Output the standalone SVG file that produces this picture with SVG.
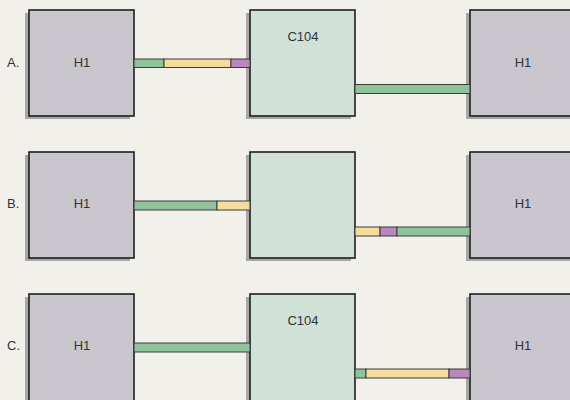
<svg xmlns="http://www.w3.org/2000/svg" width="570" height="400" viewBox="0 0 570 400">
<style>
.bg{fill:#f1f0eb}
.sh{fill:#8e8d8c;opacity:0.75}
.h{fill:#c9c7cd;stroke:#1e1e1e;stroke-width:1.6}
.c{fill:#d0e2d7;stroke:#1e1e1e;stroke-width:1.6}
.g{fill:#8fc39b;stroke:#3a3a3a;stroke-width:1}
.y{fill:#f5dc9d;stroke:#3a3a3a;stroke-width:1}
.p{fill:#b887bb;stroke:#3a3a3a;stroke-width:1}
text{font-family:"Liberation Sans",Arial,sans-serif;font-size:13px;fill:#333}
.m{text-anchor:middle}
</style>
<rect class="bg" x="0" y="0" width="570" height="400"/>
<text x="7" y="67">A.</text>
<text x="7" y="208">B.</text>
<text x="7" y="350">C.</text>
<g id="a-h1-left"><rect class="sh" x="25" y="13" width="105" height="106"/><rect class="h" x="29" y="10" width="105" height="106"/><text class="m" x="82" y="67">H1</text></g>
<g id="a-c104"><rect class="sh" x="246" y="13" width="105" height="106"/><rect class="c" x="250" y="10" width="105" height="106"/><text class="m" x="303" y="41">C104</text></g>
<g id="a-h1-right"><rect class="sh" x="466" y="13" width="110" height="106"/><rect class="h" x="470" y="10" width="110" height="106"/><text class="m" x="523" y="67">H1</text></g>
<g id="b-h1-left"><rect class="sh" x="25" y="155" width="105" height="106"/><rect class="h" x="29" y="152" width="105" height="106"/><text class="m" x="82" y="208">H1</text></g>
<g id="b-c"><rect class="sh" x="246" y="155" width="105" height="106"/><rect class="c" x="250" y="152" width="105" height="106"/></g>
<g id="b-h1-right"><rect class="sh" x="466" y="155" width="110" height="106"/><rect class="h" x="470" y="152" width="110" height="106"/><text class="m" x="523" y="208">H1</text></g>
<g id="c-h1-left"><rect class="sh" x="25" y="297" width="105" height="110"/><rect class="h" x="29" y="294" width="105" height="110"/><text class="m" x="82" y="350">H1</text></g>
<g id="c-c104"><rect class="sh" x="246" y="297" width="105" height="110"/><rect class="c" x="250" y="294" width="105" height="110"/><text class="m" x="303" y="325">C104</text></g>
<g id="c-h1-right"><rect class="sh" x="466" y="297" width="110" height="110"/><rect class="h" x="470" y="294" width="110" height="110"/><text class="m" x="523" y="350">H1</text></g>
<g id="connectors">
<rect class="g" x="134" y="59" width="30" height="8.5"/><rect class="y" x="164" y="59" width="67" height="8.5"/><rect class="p" x="231" y="59" width="19" height="8.5"/>
<rect class="g" x="355" y="84.5" width="115" height="9"/>
<rect class="g" x="134" y="201" width="83" height="9"/><rect class="y" x="217" y="201" width="33" height="9"/>
<rect class="y" x="355" y="227" width="25" height="9"/><rect class="p" x="380" y="227" width="17" height="9"/><rect class="g" x="397" y="227" width="73" height="9"/>
<rect class="g" x="134" y="343" width="116" height="9"/>
<rect class="g" x="355" y="369" width="11" height="9"/><rect class="y" x="366" y="369" width="83" height="9"/><rect class="p" x="449" y="369" width="21" height="9"/>
</g>
</svg>
